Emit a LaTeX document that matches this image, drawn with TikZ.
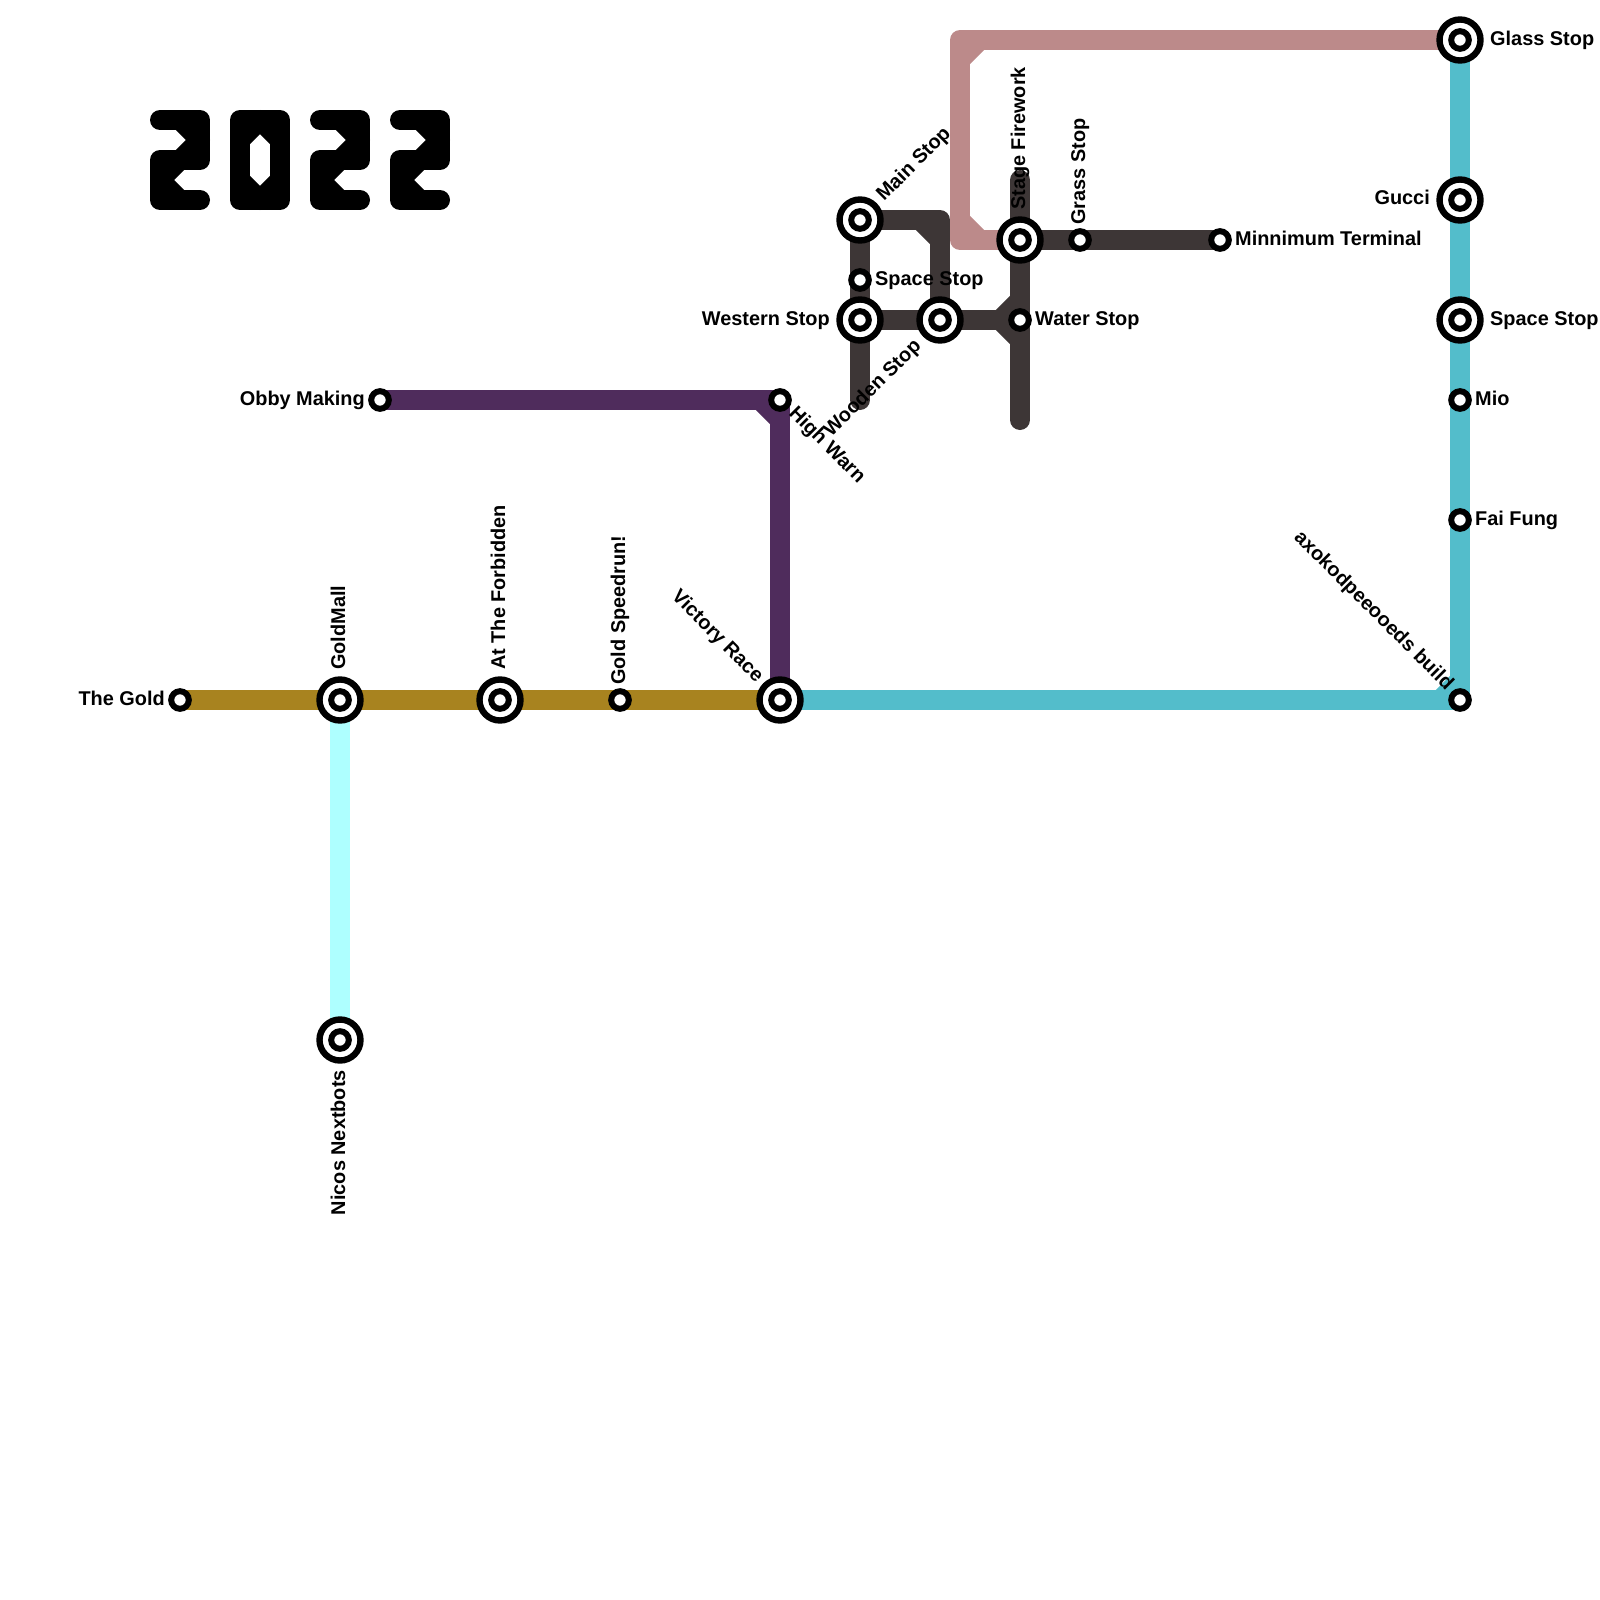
\documentclass[tikz,border=0pt]{standalone}
\usepackage{fontspec}
\setmainfont{Liberation Sans}
\definecolor{cgold}{HTML}{A8831F}
\definecolor{cteal}{HTML}{53BDCB}
\definecolor{ccyan}{HTML}{AEFFFF}
\definecolor{cdark}{HTML}{3D3636}
\definecolor{cpink}{HTML}{BC8A8A}
\definecolor{cpurple}{HTML}{4F2C5C}
\tikzset{
  metro/.style={line width=20pt,line cap=round,line join=round},
  smallstop/.style={circle,draw=black,fill=white,line width=6pt,minimum size=17.6pt,inner sep=0pt},
  bigring/.style={circle,draw=black,fill=white,line width=6.4pt,minimum size=41pt,inner sep=0pt},
  lab/.style={font=\fontsize{19.9}{24}\selectfont\bfseries,inner sep=0pt,text=black},
  digit/.style={line width=20pt,line cap=round,line join=round,draw=black},
}
\newcommand{\bigstop}[2]{\node[bigring] (#1ring) at #2 {};\node[smallstop] (#1) at #2 {};}
\begin{document}
\begin{tikzpicture}[x=1pt,y=-1pt]
\useasboundingbox (0,0) rectangle (1600,1600);
% corner coordinates
\coordinate (pA) at (960,240); \coordinate (pB) at (960,40);
\coordinate (tA) at (1460,700);
\coordinate (uA) at (780,400);
\coordinate (dA) at (940,220);
\coordinate (dBot) at (860,400);
\coordinate (vTop) at (1020,180); \coordinate (vBot) at (1020,420);
% station positions
\coordinate (Pgold) at (180,700); \coordinate (Pmall) at (340,700); \coordinate (Pforb) at (500,700);
\coordinate (Pspeed) at (620,700); \coordinate (Pvict) at (780,700); \coordinate (Paxo) at (1460,700);
\coordinate (Pnico) at (340,1040); \coordinate (Pobby) at (380,400); \coordinate (Phigh) at (780,400);
\coordinate (Pmain) at (860,220); \coordinate (Pspace) at (860,280); \coordinate (Pwest) at (860,320);
\coordinate (Pwood) at (940,320); \coordinate (Pstage) at (1020,240); \coordinate (Pwater) at (1020,320);
\coordinate (Pgrass) at (1080,240); \coordinate (Pminn) at (1220,240);
\coordinate (Pglass) at (1460,40); \coordinate (Pgucci) at (1460,200); \coordinate (Pspr) at (1460,320);
\coordinate (Pmio) at (1460,400); \coordinate (Pfai) at (1460,520);
% lines
\draw[metro,ccyan] (Pmall) -- (Pnico);
\draw[metro,cpurple] (Pobby) -- (uA) -- (Pvict);
\draw[metro,cpurple,line cap=butt] (760,400) -- (780,420);
\draw[metro,cgold] (Pgold) -- (Pvict);
\draw[metro,cteal] (Pvict) -- (tA) -- (Pglass);
\draw[metro,cteal,line cap=butt] (1440,700) -- (1460,680);
\draw[metro,cpink] (Pstage) -- (pA) -- (pB) -- (Pglass);
\draw[metro,cpink,line cap=butt] (960,60) -- (980,40);
\draw[metro,cpink,line cap=butt] (960,220) -- (980,240);
\draw[metro,cdark] (dBot) -- (Pmain) -- (dA) -- (Pwood);
\draw[metro,cdark,line cap=butt] (920,220) -- (940,240);
\draw[metro,cdark] (Pwest) -- (Pwater);
\draw[metro,cdark] (vTop) -- (vBot);
\draw[metro,cdark,line cap=butt] (1000,320) -- (1020,300);
\draw[metro,cdark,line cap=butt] (1000,320) -- (1020,340);
\draw[metro,cdark] (Pstage) -- (Pminn);
% logo
\foreach \o in {0,160,240}{
  \begin{scope}[xshift=\o pt]
    \draw[digit] (160,120) -- (200,120) -- (200,160) -- (160,160) -- (160,200) -- (200,200);
    \draw[digit,line cap=butt] (180,120) -- (200,140) -- (180,160);
    \draw[digit,line cap=butt] (180,160) -- (160,180) -- (180,200);
  \end{scope}
}
\draw[digit] (240,120) -- (280,120) -- (280,200) -- (240,200) -- cycle;
\draw[digit,line cap=butt] (240,140) -- (260,120) -- (280,140);
\draw[digit,line cap=butt] (240,180) -- (260,200) -- (280,180);
% stations
\node[smallstop] (gold) at (Pgold) {};
\bigstop{mall}{(Pmall)}
\bigstop{forb}{(Pforb)}
\node[smallstop] (speed) at (Pspeed) {};
\bigstop{vict}{(Pvict)}
\node[smallstop] (axo) at (Paxo) {};
\bigstop{nico}{(Pnico)}
\node[smallstop] (obby) at (Pobby) {};
\node[smallstop] (high) at (Phigh) {};
\bigstop{main}{(Pmain)}
\node[smallstop] (space) at (Pspace) {};
\bigstop{west}{(Pwest)}
\bigstop{wood}{(Pwood)}
\bigstop{stage}{(Pstage)}
\node[smallstop] (water) at (Pwater) {};
\node[smallstop] (grass) at (Pgrass) {};
\node[smallstop] (minn) at (Pminn) {};
\bigstop{glass}{(Pglass)}
\bigstop{gucci}{(Pgucci)}
\bigstop{spr}{(Pspr)}
\node[smallstop] (mio) at (Pmio) {};
\node[smallstop] (fai) at (Pfai) {};
% labels
\node[lab,anchor=base east] (lgold) at (165,705) {The Gold};
\node[lab,anchor=base east] (lobby) at (365,405) {Obby Making};
\node[lab,anchor=base east] (lwest) at (830,325) {Western Stop};
\node[lab,anchor=base east] (lgucci) at (1430,204) {Gucci};
\node[lab,anchor=base west] (lglass) at (1490,46) {Glass Stop};
\node[lab,anchor=base west] (lspr) at (1490,325) {Space Stop};
\node[lab,anchor=base west] (lspace) at (875,285) {Space Stop};
\node[lab,anchor=base west] (lwater) at (1035,325) {Water Stop};
\node[lab,anchor=base west] (lminn) at (1235,245) {Minnimum Terminal};
\node[lab,anchor=base west] (lmio) at (1475,405) {Mio};
\node[lab,anchor=base west] (lfai) at (1475,525) {Fai Fung};
\node[lab,anchor=base west,rotate=90] (lmall) at (345,670) {GoldMall};
\node[lab,anchor=base west,rotate=90] (lforb) at (505,670) {At The Forbidden};
\node[lab,anchor=base west,rotate=90] (lspeed) at (625,685) {Gold Speedrun!};
\node[lab,anchor=base west,rotate=90] (lstage) at (1025,210) {Stage Firework};
\node[lab,anchor=base west,rotate=90] (lgrass) at (1085,225) {Grass Stop};
\node[lab,anchor=base east,rotate=90] (lnico) at (345,1070) {Nicos Nextbots};
\node[lab,anchor=base west,rotate=45] (lmain) at (884,202) {Main Stop};
\node[lab,anchor=base east,rotate=45] (lwood) at (922,347) {Wooden Stop};
\node[lab,anchor=base east,rotate=-45] (lvict) at (756,683) {Victory Race};
\node[lab,anchor=base west,rotate=-45] (lhigh) at (788,414) {High Warn};
\node[lab,anchor=base east,rotate=-45] (laxo) at (1446,691) {axokodpeeooeds build};
\end{tikzpicture}
\end{document}
